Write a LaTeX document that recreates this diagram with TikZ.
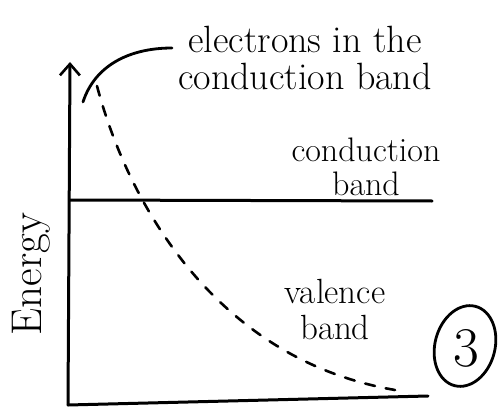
\documentclass[tikz,border=0pt]{standalone}
\usepackage{fontspec}
\usepackage{tikz}
\usetikzlibrary{arrows.meta,positioning,shapes.geometric}

\begin{document}
\begin{tikzpicture}[x=1pt, y=-1pt,
  axis/.style={line width=3pt, line cap=round},
  curve/.style={line width=2.6pt, dash pattern=on 10pt off 11pt, line cap=round},
  leader/.style={line width=2.8pt, line cap=round},
  label/.style={align=center, font=\fontsize{38}{37}\selectfont, inner sep=0pt}
]
\useasboundingbox (0,0) rectangle (501,412);
\coordinate (origin) at (68,405);
\coordinate (ytop) at (70,62);
\coordinate (xend) at (428,396);
\coordinate (cbl) at (70,200);
\coordinate (cbr) at (432,201);

\draw[axis, -{Straight Barb[length=4mm, width=7mm, line width=2.6pt]}] (origin) -- (ytop);
\draw[axis] (origin) -- (xend);
\draw[axis] (cbl) -- (cbr);

\draw[curve] (97,86) .. controls (130,210) and (220,360) .. (395,390);

\node[label] (elec) at (305,58) {electrons in the\\conduction band};
\draw[leader] (83,102) .. controls (95,65) and (130,48) .. (172,48);

\node[label, font=\fontsize{34}{34}\selectfont] (cband) at (366,167) {conduction\\band};
\node[label, font=\fontsize{35}{36}\selectfont] (vband) at (335,309) {valence\\band};
\node[label, rotate=90, font=\fontsize{43}{43}\selectfont] (energy) at (31,274) {Energy};

\node[font=\fontsize{56}{56}\selectfont, inner sep=0pt] (num) at (466,348) {3};
\draw[leader, rotate around={-15:(465,346)}] (465,346) ellipse (30pt and 41pt);
\end{tikzpicture}
\end{document}
